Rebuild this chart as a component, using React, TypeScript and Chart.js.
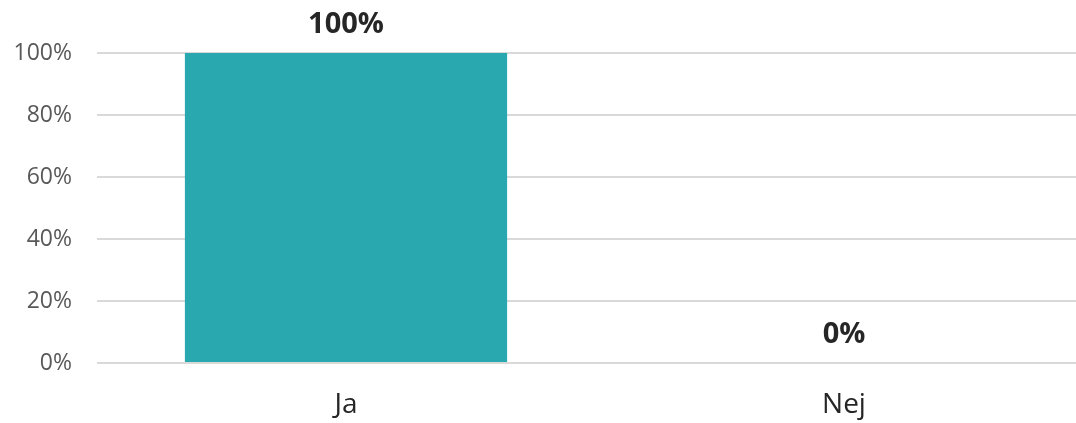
import React, { useEffect, useRef } from "react";
import { Chart, registerables } from "chart.js";

Chart.register(...registerables);

const categories = ["Ja", "Nej"];
const values = [100, 0];
const yTicks = [0, 20, 40, 60, 80, 100];

const FONT = "'Open Sans', sans-serif";

const labelPlugin = {
  id: "valueLabels",
  afterDatasetsDraw(chart: any) {
    const ctx = chart.ctx;
    const meta = chart.getDatasetMeta(0);
    ctx.save();
    ctx.font = `bold 29px ${FONT}`;
    ctx.fillStyle = "#262626";
    ctx.textAlign = "center";
    ctx.textBaseline = "alphabetic";
    meta.data.forEach((el: any, i: number) => {
      ctx.fillText(values[i] + "%", el.x, el.y - 20);
    });
    ctx.restore();
  },
};

export default function App() {
  const ref = useRef<HTMLCanvasElement | null>(null);
  useEffect(() => {
    if (!ref.current) return;
    const chart = new Chart(ref.current, {
      type: "bar",
      data: {
        labels: categories,
        datasets: [
          {
            data: values,
            backgroundColor: "#2aa8b0",
            barPercentage: 0.647,
            categoryPercentage: 1,
          },
        ],
      },
      options: {
        animation: false,
        responsive: false,
        maintainAspectRatio: false,
        layout: { padding: { top: 53, right: 7, bottom: 0, left: 0 } },
        plugins: { legend: { display: false }, tooltip: { enabled: false } },
        scales: {
          x: {
            afterFit: (s: any) => {
              s.height = 60;
            },
            grid: { display: false, drawTicks: false },
            border: { display: false },
            ticks: {
              padding: 25,
              color: "#262626",
              font: { family: FONT, size: 28 },
            },
          },
          y: {
            min: 0,
            max: 100,
            afterFit: (s: any) => {
              s.width = 97;
            },
            afterBuildTicks: (s: any) => {
              s.ticks = yTicks.map((v) => ({ value: v }));
            },
            grid: { color: "#d9d9d9", lineWidth: 2, drawTicks: false },
            border: { display: false },
            ticks: {
              padding: 25,
              color: "#595959",
              font: { family: FONT, size: 23 },
              callback: (v: any) => v + "%",
            },
          },
        },
      },
      plugins: [labelPlugin],
    });
    return () => chart.destroy();
  }, []);
  return (
    <div style={{ position: "absolute", left: 0, top: 0, width: 1076, height: 423, overflow: "hidden", background: "#fff" }}>
      <canvas ref={ref} width={1100} height={423} style={{ display: "block" }} />
    </div>
  );
}
